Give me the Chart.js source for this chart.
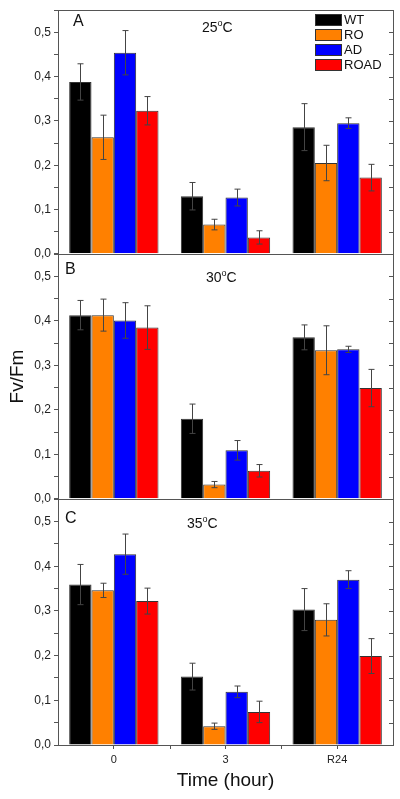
<!DOCTYPE html>
<html>
<head>
<meta charset="utf-8">
<script src="https://cdn.jsdelivr.net/npm/chart.js@4.4.1/dist/chart.umd.min.js"></script>
<style>
    body { margin: 0; background: #fff; font-family: "Liberation Sans", Arial, sans-serif; }
    #wrap { position: relative; width: 400px; height: 799px; overflow: hidden; }
    canvas { position: absolute; left: 0; }
    .lbl { position: absolute; line-height: 1; color: #111; white-space: nowrap; }
    .letter { font-size: 16px; }
    .temp { font-size: 14px; }
    .temp sup { font-size: 9px; vertical-align: 0; position: relative; top: -6px; }
    #legend { position: absolute; left: 315px; top: 14px; }
    .leg-row { position: relative; height: 15px; }
    .leg-box { position: absolute; left: 0; top: 0; width: 25px; height: 10px; border: 1px solid #333; }
    .leg-text { position: absolute; left: 29px; top: -1px; font-size: 13px; line-height: 13px; color: #111; }
</style>
</head>
<body>
<div id="wrap">
    <canvas id="chart-a" width="400" height="264" style="top:0px"></canvas>
    <canvas id="chart-b" width="400" height="265" style="top:244px"></canvas>
    <canvas id="chart-c" width="400" height="310" style="top:489px"></canvas>

    <div class="lbl letter" style="left:73px; top:13px">A</div>
    <div class="lbl temp" style="left:202px; top:20px">25<sup>o</sup>C</div>
    <div class="lbl letter" style="left:65px; top:261px">B</div>
    <div class="lbl temp" style="left:206px; top:270px">30<sup>o</sup>C</div>
    <div class="lbl letter" style="left:65px; top:510px">C</div>
    <div class="lbl temp" style="left:187px; top:516px">35<sup>o</sup>C</div>

    <div id="legend"></div>
</div>

<script>
const categories = ['0', '3', 'R24'];
const seriesNames = ['WT', 'RO', 'AD', 'ROAD'];
const seriesColors = ['#000000', '#FF8000', '#0000FF', '#FF0000'];
const yTicks = [0, 0.05, 0.1, 0.15, 0.2, 0.25, 0.3, 0.35, 0.4, 0.45, 0.5, 0.55];

// rows = WT, RO, AD, ROAD ; columns = 0, 3, R24
const means25 = [
    [0.388, 0.130, 0.286],
    [0.263, 0.066, 0.205],
    [0.454, 0.127, 0.295],
    [0.323, 0.037, 0.172]
];
const errs25 = [
    [0.041, 0.031, 0.053],
    [0.050, 0.012, 0.040],
    [0.050, 0.019, 0.012],
    [0.032, 0.015, 0.030]
];

const means30 = [
    [0.413, 0.180, 0.363],
    [0.413, 0.032, 0.334],
    [0.401, 0.109, 0.336],
    [0.385, 0.063, 0.249]
];
const errs30 = [
    [0.033, 0.033, 0.028],
    [0.036, 0.007, 0.055],
    [0.040, 0.022, 0.007],
    [0.049, 0.014, 0.042]
];

const means35 = [
    [0.359, 0.153, 0.303],
    [0.346, 0.042, 0.280],
    [0.427, 0.119, 0.370],
    [0.322, 0.074, 0.199]
];
const errs35 = [
    [0.045, 0.030, 0.047],
    [0.016, 0.007, 0.036],
    [0.045, 0.013, 0.020],
    [0.029, 0.024, 0.039]
];

const AXIS_COLOR = '#555';

// error bars + frame + inward right ticks + x boundary ticks
const panelDecor = {
    id: 'panelDecor',
    afterDatasetsDraw(chart) {
        var ctx = chart.ctx;
        var y = chart.scales.y;
        var errs = chart.options.plugins.panelDecor.errs;
        ctx.save();
        ctx.strokeStyle = '#444';
        ctx.lineWidth = 1;
        chart.data.datasets.forEach(function(ds, di) {
            var meta = chart.getDatasetMeta(di);
            meta.data.forEach(function(bar, i) {
                var x = Math.round(bar.x) + 0.5;
                var hi = y.getPixelForValue(ds.data[i] + errs[di][i]);
                var lo = y.getPixelForValue(ds.data[i] - errs[di][i]);
                ctx.beginPath();
                ctx.moveTo(x, hi); ctx.lineTo(x, lo);
                ctx.moveTo(x - 3, hi); ctx.lineTo(x + 3, hi);
                ctx.moveTo(x - 3, lo); ctx.lineTo(x + 3, lo);
                ctx.stroke();
            });
        });
        ctx.restore();
    },
    afterDraw(chart) {
        var ctx = chart.ctx;
        var a = chart.chartArea;
        var y = chart.scales.y;
        var x = chart.scales.x;
        ctx.save();
        ctx.strokeStyle = AXIS_COLOR;
        ctx.lineWidth = 1;
        ctx.strokeRect(Math.round(a.left) + 0.5, Math.round(a.top) + 0.5,
            Math.round(a.right - a.left), Math.round(a.bottom - a.top));
        ctx.beginPath();
        yTicks.forEach(function(v) {
            var py = Math.round(y.getPixelForValue(v)) + 0.5;
            ctx.moveTo(a.right - 4, py); ctx.lineTo(a.right, py);
        });
        if (chart.options.plugins.panelDecor.bottom) {
            for (var i = 0; i < categories.length - 1; i++) {
                var px = Math.round((x.getPixelForValue(i) + x.getPixelForValue(i + 1)) / 2) + 0.5;
                ctx.moveTo(px, a.bottom); ctx.lineTo(px, a.bottom + 4);
            }
        }
        ctx.stroke();
        ctx.restore();
    }
};

function makePanel(id, means, errs, padding, isBottom, yTitle) {
    var ctx = document.getElementById(id).getContext('2d');
    return new Chart(ctx, {
        type: 'bar',
        data: {
            labels: categories,
            datasets: seriesNames.map(function(name, i) {
                return {
                    label: name,
                    data: means[i],
                    backgroundColor: seriesColors[i],
                    borderColor: '#333',
                    borderWidth: 1,
                    borderSkipped: 'bottom',
                    categoryPercentage: 0.8,
                    barPercentage: 1.0
                };
            })
        },
        options: {
            responsive: false,
            animation: false,
            devicePixelRatio: 1,
            layout: { padding: padding },
            plugins: {
                legend: { display: false },
                tooltip: { enabled: false },
                panelDecor: { errs: errs, bottom: isBottom }
            },
            scales: {
                x: {
                    display: isBottom,
                    offset: true,
                    grid: { offset: false, drawOnChartArea: false, drawTicks: true, tickLength: 4, color: AXIS_COLOR },
                    border: { display: false },
                    ticks: { color: '#222', font: { family: 'Liberation Sans', size: 11 }, padding: 4, maxRotation: 0 },
                    title: {
                        display: isBottom,
                        text: 'Time (hour)',
                        color: '#111',
                        font: { family: 'Liberation Sans', size: 19 },
                        padding: { top: 0, bottom: 7 }
                    },
                    afterFit: function(scale) { if (isBottom) scale.height = 54; }
                },
                y: {
                    min: 0,
                    max: 0.55,
                    afterBuildTicks: function(scale) {
                        scale.ticks = yTicks.map(function(v) { return { value: v }; });
                    },
                    grid: { drawOnChartArea: false, drawTicks: true, tickLength: 4, color: AXIS_COLOR },
                    border: { display: false },
                    ticks: {
                        color: '#222',
                        font: { family: 'Liberation Sans', size: 12 },
                        padding: 3,
                        callback: function(v) {
                            var h = Math.round(v * 100);
                            if (h % 10 !== 0) return '';
                            return (h / 100).toFixed(1).replace('.', ',');
                        }
                    },
                    title: {
                        display: !!yTitle,
                        text: yTitle || '',
                        color: '#111',
                        font: { family: 'Liberation Sans', size: 19 },
                        padding: { top: 6, bottom: 0 }
                    },
                    afterFit: function(scale) { scale.width = 58; }
                }
            }
        },
        plugins: [panelDecor]
    });
}

function buildLegend() {
    var el = document.getElementById('legend');
    el.innerHTML = seriesNames.map(function(name, i) {
        return '<div class="leg-row">' +
            '<div class="leg-box" style="background:' + seriesColors[i] + '"></div>' +
            '<div class="leg-text">' + name + '</div>' +
            '</div>';
    }).join('');
}

makePanel('chart-a', means25, errs25, { top: 8, bottom: 10, left: 0, right: 7 }, false, null);
makePanel('chart-b', means30, errs30, { top: 10, bottom: 10, left: 0, right: 7 }, false, 'Fv/Fm');
makePanel('chart-c', means35, errs35, { top: 10, bottom: 0, left: 0, right: 7 }, true, null);
buildLegend();
</script>
</body>
</html>
